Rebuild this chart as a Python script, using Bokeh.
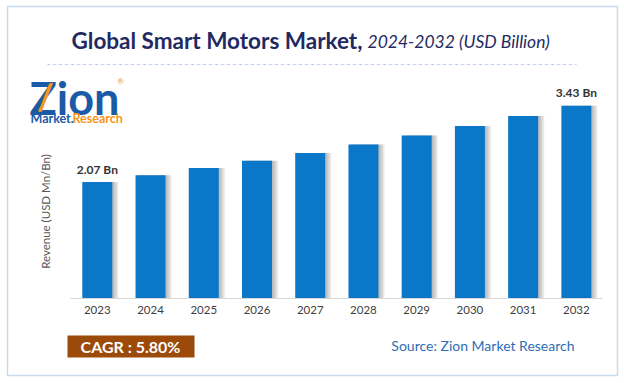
from bokeh.plotting import figure
from bokeh.models import (ColumnDataSource, Label, Range1d, BoxAnnotation, LinearAxis,
                          FixedTicker)
from bokeh.transform import dodge
from bokeh.embed import file_html
from bokeh.resources import INLINE

years = ["2023", "2024", "2025", "2026", "2027", "2028", "2029", "2030", "2031", "2032"]
revenue = [2.07, 2.19, 2.32, 2.45, 2.59, 2.74, 2.90, 3.07, 3.25, 3.43]
first_label = "2.07 Bn"
last_label = "3.43 Bn"
title_bold = "Global Smart Motors Market,"
title_italic = "2024-2032 (USD Billion)"
y_label = "Revenue (USD Mn/Bn)"
cagr_text = "CAGR : 5.80%"
source_text = "Source: Zion Market Research"

W, H = 622, 380
FONT = "Lato"
idx = list(range(len(years)))

src = ColumnDataSource(dict(x=idx, year=years, value=revenue))

p = figure(width=W, height=H, output_backend="svg", toolbar_location=None,
           x_range=Range1d(-1.8185, 9.8667), y_range=Range1d(-1.467, 5.307),
           x_axis_location=None, y_axis_location=None,
           min_border_left=0, min_border_right=0, min_border_top=0, min_border_bottom=0)
p.xgrid.visible = False
p.ygrid.visible = False
p.outline_line_color = None
p.background_fill_color = "white"
p.border_fill_color = "white"

# bar shadows (soft gradient on the right)
px = 1.0 / 53.23
for k in [1.5, 3.0, 4.5, 6.0]:
    p.vbar(x=dodge("x", k * px, range=p.x_range), top="value", width=0.5636, source=src,
           fill_color="#7f7f7f", fill_alpha=0.16, line_color=None)
p.vbar(x="x", top="value", width=0.5636, source=src, fill_color="#0b77c8", line_color=None)

# category axis at value 0
xa = LinearAxis(fixed_location=0, bounds=(-0.5, 9.5),
                ticker=FixedTicker(ticks=idx),
                major_label_overrides={i: y for i, y in zip(idx, years)})
xa.axis_line_color = "#d9d9d9"
xa.axis_line_width = 1
xa.major_tick_line_color = None
xa.minor_tick_line_color = None
xa.major_tick_out = 0
xa.major_tick_in = 0
xa.major_label_text_font = FONT
xa.major_label_text_font_size = "11.5px"
xa.major_label_text_color = "#404040"
xa.major_label_standoff = 8
p.add_layout(xa, "below")

# value labels
for i, t in [(0, first_label), (len(years) - 1, last_label)]:
    p.add_layout(Label(x=idx[i], y=revenue[i], text=t, y_offset=13,
                       text_align="center", text_baseline="middle", text_font=FONT,
                       text_font_style="bold", text_font_size="12px", text_color="#333333"))


def lbl(x, ytop, text, **kw):
    d = dict(x=x, y=H - ytop, x_units="screen", y_units="screen", text=text, text_font=FONT)
    d.update(kw)
    p.add_layout(Label(**d))


def box(l, r, t, b, **kw):
    p.add_layout(BoxAnnotation(left=l, right=r, top=H - t, bottom=H - b,
                               left_units="screen", right_units="screen",
                               top_units="screen", bottom_units="screen", **kw))

# outer border
box(7, 617, 6, 375, fill_alpha=0, line_color="#4a84c6", line_width=1.5)

# title
lbl(362, 40, title_bold, text_align="right", text_baseline="middle", text_font_size="22.5px",
    text_font_style="bold", text_color="#1f2a63")
lbl(367, 41, title_italic, text_align="left", text_baseline="middle", text_font_size="17.5px",
    text_font_style="italic", text_color="#1f2a63")
# dashed divider
box(47, 576, 64, 64, fill_alpha=0, line_color="#7a9ad6", line_width=1, line_dash="3 3")

# logo
lbl(29, 97, "Zion", text_align="left", text_baseline="middle", text_font_size="45px",
    text_font_style="bold", text_color="#1b5aa6")
lbl(45, 95, "/", text_align="center", text_baseline="middle", text_font_size="36px",
    text_font_style="bold", text_color="#f7941d")
lbl(120, 80, "®", text_align="center", text_baseline="middle", text_font_size="8px",
    text_color="#f7941d")
lbl(30, 118, "Market.", text_align="left", text_baseline="middle", text_font_size="12.5px",
    text_font_style="bold", text_color="#1b5aa6")
lbl(72, 118, "Research", text_align="left", text_baseline="middle", text_font_size="12.5px",
    text_font_style="bold", text_color="#f7941d")

# y label
lbl(45, 211, y_label, angle=1.5708, text_align="center", text_baseline="middle",
    text_font_size="11.5px", text_color="#595959")

# CAGR box and source
box(67, 194, 335, 357, fill_color="#9c4a0a", fill_alpha=1, line_color=None)
lbl(130, 346, cagr_text, text_align="center", text_baseline="middle", text_font_size="16px",
    text_font_style="bold", text_color="white")
lbl(574, 345, source_text, text_align="right", text_baseline="middle", text_font_size="14px",
    text_color="#2f6db5")

open("out.html", "w").write(file_html(p, INLINE))
